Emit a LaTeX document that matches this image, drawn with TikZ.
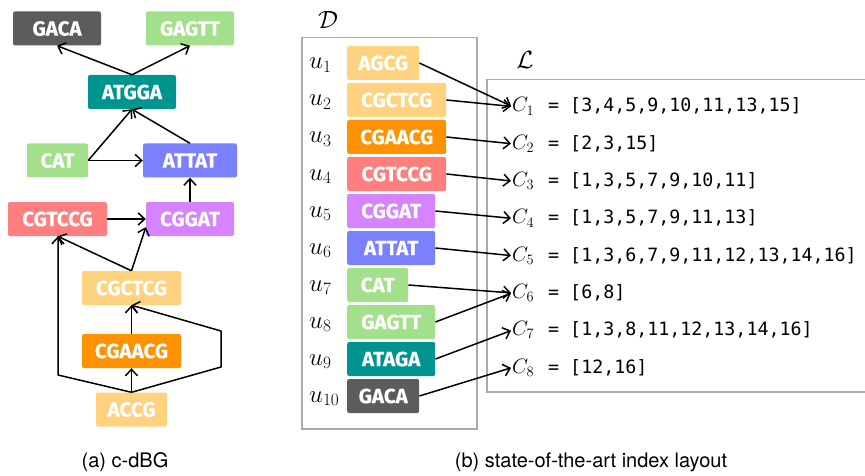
\documentclass[tikz,border=0pt]{standalone}
\usepackage{fontspec}
\newfontfamily\boxfont{Fira Sans}[BoldFeatures={FakeBold=0.4}]
\newfontfamily\monofont{DejaVu Sans Mono}
\newfontfamily\capfont{TeX Gyre Heros}
\usetikzlibrary{arrows.meta,calc}
\definecolor{cDark}{HTML}{5C5C5C}
\definecolor{cGreen}{HTML}{A3E08B}
\definecolor{cTeal}{HTML}{009490}
\definecolor{cBlue}{HTML}{7B80FF}
\definecolor{cSalmon}{HTML}{FF7F7F}
\definecolor{cPurple}{HTML}{D683FF}
\definecolor{cLOrange}{HTML}{FFD280}
\definecolor{cOrange}{HTML}{FF9200}
\definecolor{cFrame}{HTML}{AAAAAA}
\begin{document}
\begin{tikzpicture}[x=1pt,y=-1pt,
  kbox/.style={rounded corners=2pt, inner sep=0pt, minimum height=34pt, text=white,
    font=\boxfont\bfseries\fontsize{20.5}{20.5}\selectfont},
  edge/.style={-{Straight Barb[length=6.5pt,width=12pt,line width=1.5pt]}, line width=1.5pt, line join=round},
  frame/.style={draw=cFrame, line width=1.5pt, inner sep=0pt, anchor=north west},
  ulab/.style={anchor=base west, inner sep=0pt, font=\fontsize{26}{26}\selectfont},
  clab/.style={anchor=base west, inner sep=0pt, font=\fontsize{21}{21}\selectfont},
  lst/.style={anchor=base west, inner sep=0pt, font=\monofont\fontsize{18.3}{18.3}\selectfont},
  captext/.style={font=\capfont\fontsize{20}{20}\selectfont}]
\useasboundingbox (0,0) rectangle (865,476);

% ---------- (a) c-dBG ----------
\node[kbox, fill=cDark,    minimum width=88] (gGACA)   at (57,28.5)   {GACA};
\node[kbox, fill=cGreen,   minimum width=88] (gGAGTT)  at (190,28.5)  {GAGTT};
\node[kbox, fill=cTeal,    minimum width=88] (gATGGA)  at (132,92)    {ATGGA};
\node[kbox, fill=cGreen,   minimum width=61] (gCAT)    at (57.5,160.5){CAT};
\node[kbox, fill=cBlue,    minimum width=94] (gATTAT)  at (190,160.5) {ATTAT};
\node[kbox, fill=cSalmon,  minimum width=99] (gCGTCCG) at (57.5,219)  {CGTCCG};
\node[kbox, fill=cPurple,  minimum width=88] (gCGGAT)  at (190,219)   {CGGAT};
\node[kbox, fill=cLOrange, minimum width=99] (gCGCTCG) at (131.5,288) {CGCTCG};
\node[kbox, fill=cOrange,  minimum width=99] (gCGAACG) at (131.5,351) {CGAACG};
\node[kbox, fill=cLOrange, minimum width=71] (gACCG)   at (131.5,409.5){ACCG};

\coordinate (b1) at (58,375);
\coordinate (b2) at (221,367);
\coordinate (b3) at (221,331);

\draw[edge] (gATGGA.north) -- (gGACA.south);
\draw[edge] (gATGGA.north) -- (gGAGTT.south);
\draw[edge] (gCAT.east) -- (gATGGA.south);
\draw[edge] (gCAT.east) -- (gATTAT.west);
\draw[edge] (gATTAT.north) -- (gATGGA.south);
\draw[edge] (gCGGAT.north) -- (gATTAT.south);
\draw[edge] (gCGTCCG.east) -- (gCGGAT.west);
\draw[edge] (gCGCTCG.north) -- (gCGTCCG.south);
\draw[edge] (gCGCTCG.north) -- ($(gCGGAT.south west)+(0,-9)$);
\draw[edge] (gACCG.north) -- (gCGAACG.south);
\draw[edge] (gCGAACG.north) -- (gCGCTCG.south);
\draw[edge] (gACCG.north) -- (b1) -- (b1 |- gCGTCCG.south);
\draw[edge] (gACCG.north) -- (b2) -- (b3) -- (gCGCTCG.south);

% ---------- (b) index layout ----------
\node[frame, minimum width=175, minimum height=391] (Dbox) at (301,37) {};
\node[frame, minimum width=420, minimum height=312] (Lbox) at (486,79) {};
\node[font=\fontsize{24}{24}\selectfont, inner sep=0pt] (Dlab) at (328,20) {$\mathcal{D}$};
\node[font=\fontsize{24}{24}\selectfont, inner sep=0pt] (Llab) at (525,60) {$\mathcal{L}$};

\node[kbox, fill=cLOrange, minimum width=72, anchor=west] (r1)  at (347,63)  {AGCG};
\node[kbox, fill=cLOrange, minimum width=99, anchor=west] (r2)  at (347,100) {CGCTCG};
\node[kbox, fill=cOrange,  minimum width=99, anchor=west] (r3)  at (347,137) {CGAACG};
\node[kbox, fill=cSalmon,  minimum width=99, anchor=west] (r4)  at (347,174) {CGTCCG};
\node[kbox, fill=cPurple,  minimum width=88, anchor=west] (r5)  at (347,211) {CGGAT};
\node[kbox, fill=cBlue,    minimum width=88, anchor=west] (r6)  at (347,248) {ATTAT};
\node[kbox, fill=cGreen,   minimum width=61, anchor=west] (r7)  at (347,285) {CAT};
\node[kbox, fill=cGreen,   minimum width=88, anchor=west] (r8)  at (347,322) {GAGTT};
\node[kbox, fill=cTeal,    minimum width=88, anchor=west] (r9)  at (347,359) {ATAGA};
\node[kbox, fill=cDark,    minimum width=72, anchor=west] (r10) at (347,396) {GACA};

\foreach \i in {1,...,10} {
  \node[ulab] (u\i) at (309,{69+37*(\i-1)}) {$u_{\i}$};
}

\node[clab] (C1) at (512,112)   {$C_1$};
\node[clab] (C2) at (512,149.3) {$C_2$};
\node[clab] (C3) at (512,186.6) {$C_3$};
\node[clab] (C4) at (512,223.9) {$C_4$};
\node[clab] (C5) at (512,261.2) {$C_5$};
\node[clab] (C6) at (512,298.5) {$C_6$};
\node[clab] (C7) at (512,335.8) {$C_7$};
\node[clab] (C8) at (512,373.1) {$C_8$};

\node[lst] (l1) at (548,112)   {= [3,4,5,9,10,11,13,15]};
\node[lst] (l2) at (548,149.3) {= [2,3,15]};
\node[lst] (l3) at (548,186.6) {= [1,3,5,7,9,10,11]};
\node[lst] (l4) at (548,223.9) {= [1,3,5,7,9,11,13]};
\node[lst] (l5) at (548,261.2) {= [1,3,6,7,9,11,12,13,14,16]};
\node[lst] (l6) at (548,298.5) {= [6,8]};
\node[lst] (l7) at (548,335.8) {= [1,3,8,11,12,13,14,16]};
\node[lst] (l8) at (548,373.1) {= [12,16]};

\draw[edge, shorten >=1pt] (r1.east)  -- (C1.west);
\draw[edge, shorten >=1pt] (r2.east)  -- (C1.west);
\draw[edge, shorten >=1pt] (r3.east)  -- (C2.west);
\draw[edge, shorten >=1pt] (r4.east)  -- (C3.west);
\draw[edge, shorten >=1pt] (r5.east)  -- (C4.west);
\draw[edge, shorten >=1pt] (r6.east)  -- (C5.west);
\draw[edge, shorten >=1pt] (r7.east)  -- (C6.west);
\draw[edge, shorten >=1pt] (r8.east)  -- (C6.west);
\draw[edge, shorten >=1pt] (r9.east)  -- (C7.west);
\draw[edge, shorten >=1pt] (r10.east) -- (C8.west);

\node[captext] (capA) at (125,462) {(a) c-dBG};
\node[captext] (capB) at (591,462) {(b) state-of-the-art index layout};
\end{tikzpicture}
\end{document}
